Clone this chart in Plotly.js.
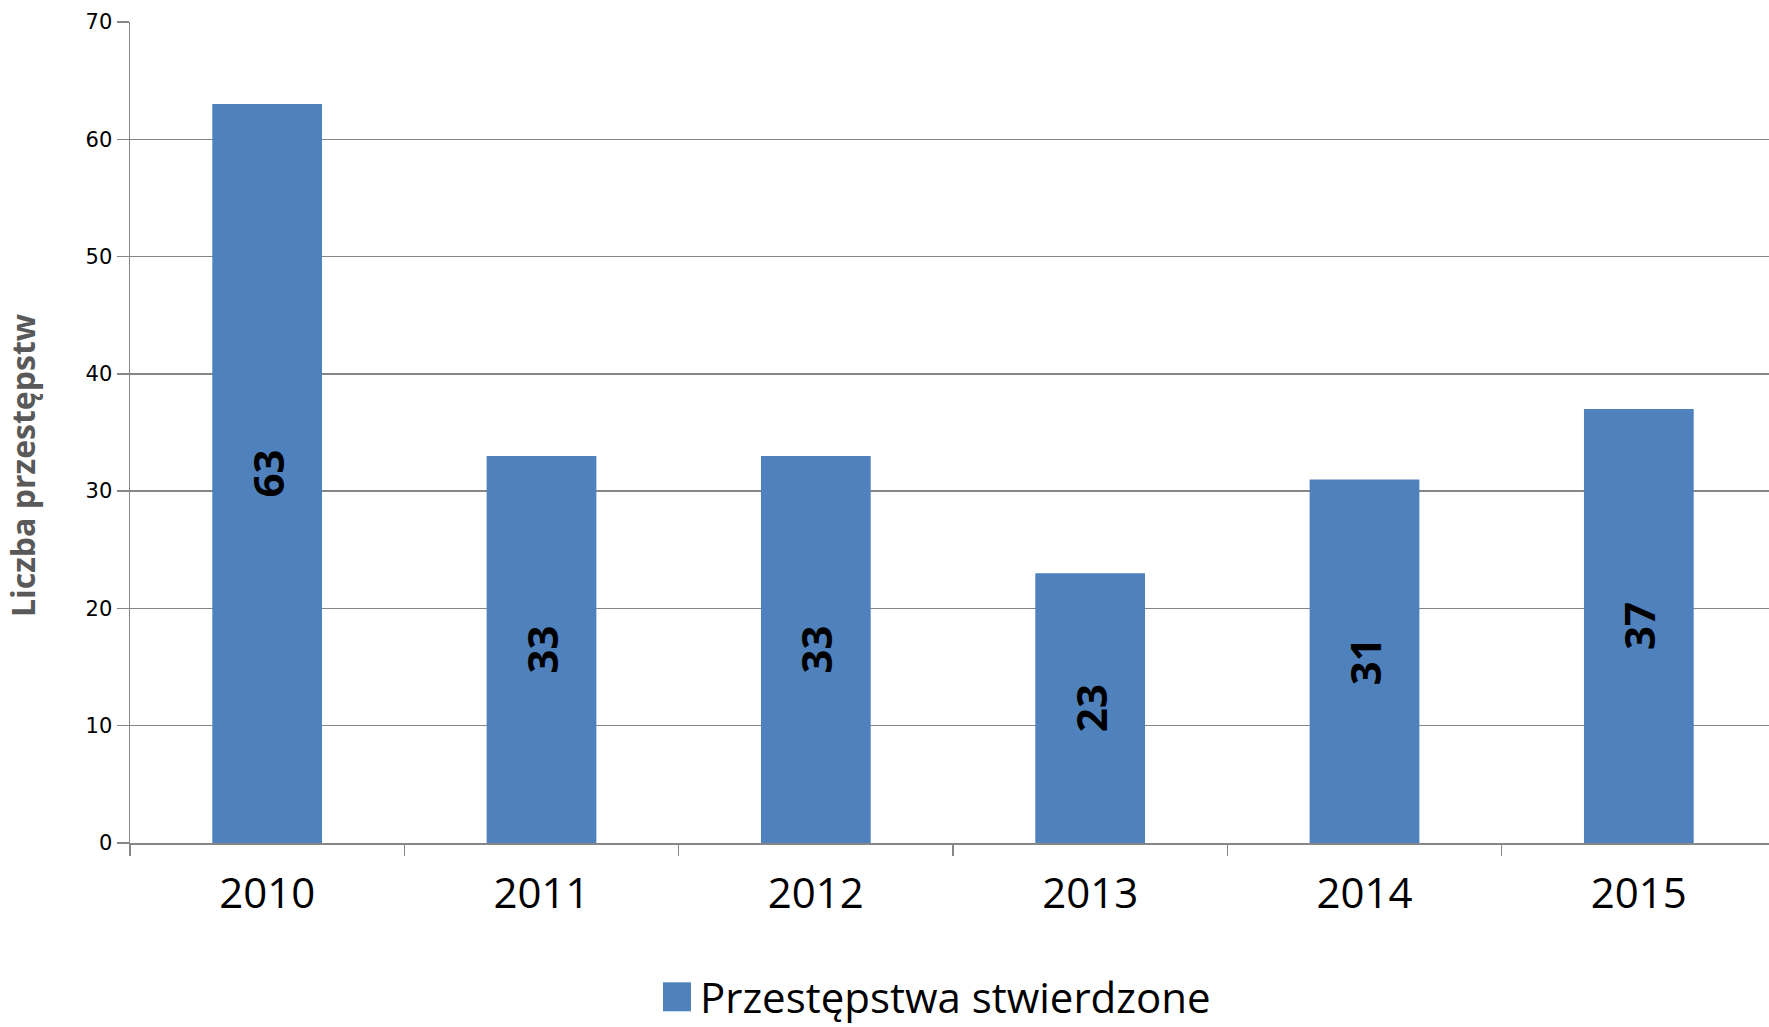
<!DOCTYPE html>
<html>
<head>
<meta charset="utf-8">
<script src="https://cdn.plot.ly/plotly-3.0.1.min.js"></script>
<style>
  html, body { margin: 0; padding: 0; background: #ffffff; overflow: hidden; }
  #chart { width: 1776px; height: 1027px; }
</style>
</head>
<body>
<div id="chart"></div>
<script>
const years = ['2010', '2011', '2012', '2013', '2014', '2015'];
const values = [63, 33, 33, 23, 31, 37];
const seriesName = 'Przestępstwa stwierdzone';
const yTitle = 'Liczba przestępstw';
const yTicks = [0, 10, 20, 30, 40, 50, 60, 70];

const trace = {
  type: 'bar',
  x: years,
  y: values,
  name: seriesName,
  marker: { color: '#4F81BD' },
  text: values.map(String),
  textposition: 'inside',
  insidetextanchor: 'middle',
  textangle: -90,
  insidetextfont: { family: 'Open Sans, sans-serif', size: 42, color: '#000000', weight: 'bold' },
  cliponaxis: false,
  hoverinfo: 'x+y'
};

const layout = {
  width: 1776,
  height: 1027,
  margin: { l: 130, r: 0, t: 22, b: 184 },
  paper_bgcolor: '#ffffff',
  plot_bgcolor: '#ffffff',
  bargap: 0.6,
  showlegend: true,
  legend: {
    orientation: 'h',
    xref: 'container',
    yref: 'container',
    x: 0.3716,
    xanchor: 'left',
    y: 0,
    yanchor: 'bottom',
    font: { family: 'Open Sans, sans-serif', size: 42, color: '#000000' },
    bgcolor: 'rgba(0,0,0,0)'
  },
  xaxis: {
    type: 'category',
    tickfont: { family: 'Open Sans, sans-serif', size: 42, color: '#000000' },
    ticklabelstandoff: 13,
    showline: true,
    linecolor: '#868686',
    linewidth: 1.5,
    ticks: 'outside',
    tickson: 'boundaries',
    ticklen: 11,
    tickcolor: '#868686',
    tickwidth: 1.5,
    showgrid: false,
    zeroline: false,
    fixedrange: true
  },
  yaxis: {
    range: [0, 70],
    tickvals: yTicks,
    ticktext: yTicks.map(String),
    tickfont: { family: 'DejaVu Sans, sans-serif', size: 21, color: '#000000' },
    showline: true,
    linecolor: '#868686',
    linewidth: 1.5,
    ticks: 'outside',
    ticklen: 12,
    tickcolor: '#868686',
    tickwidth: 1.5,
    showgrid: true,
    gridcolor: '#868686',
    gridwidth: 1.5,
    zeroline: false,
    automargin: false,
    fixedrange: true
  },
  annotations: [{
    text: yTitle,
    xref: 'paper',
    yref: 'paper',
    x: -0.0656,
    y: 0.4604,
    xanchor: 'center',
    yanchor: 'middle',
    textangle: -90,
    showarrow: false,
    font: { family: 'Open Sans, sans-serif', size: 32, color: '#595959', weight: 'bold' }
  }]
};

Plotly.newPlot('chart', [trace], layout, { displayModeBar: false, staticPlot: true }).then(function (gd) {
  // enlarge the legend swatch to match the reference's bigger square
  gd.querySelectorAll('.legend .legendpoints path').forEach(function (p) {
    p.setAttribute('d', 'M11,14.5H-17V-14.5H11Z');
  });
  // nudge the legend down a little, as in the reference
  const lg = gd.querySelector('g.legend');
  if (lg) {
    const t = lg.getAttribute('transform') || '';
    lg.setAttribute('transform', t + ' translate(0,4)');
  }
});
</script>
</body>
</html>
